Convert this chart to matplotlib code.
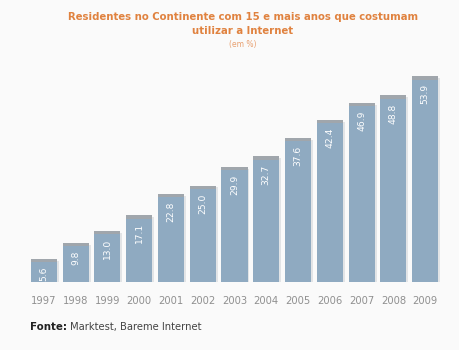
import matplotlib.pyplot as plt

years = ['1997', '1998', '1999', '2000', '2001', '2002', '2003',
         '2004', '2005', '2006', '2007', '2008', '2009']
values = [5.6, 9.8, 13.0, 17.1, 22.8, 25.0, 29.9, 32.7, 37.6, 42.4, 46.9, 48.8, 53.9]

bg = '#fafafa'
fig = plt.figure(figsize=(4.59, 3.5), dpi=100, facecolor=bg)
ax = fig.add_axes([28/459, 68/350, 413/459, 227/350])
ax.set_facecolor(bg)

x = list(range(len(years)))
# faint shadow on the right
ax.bar([i + 0.06 for i in x], values, width=0.82, color='#e2e4e6', zorder=1)
ax.bar(x, values, width=0.82, color='#8faac1', zorder=2)
# grey cap on top of each bar
ax.bar(x, [0.9] * len(x), bottom=[v - 0.4 for v in values], width=0.82,
       color='#a0a6ac', zorder=3)

for i, v in zip(x, values):
    ax.text(i, v - 1.6, '%.1f' % v, rotation=90, ha='center', va='top',
            color='white', fontsize=6.6, zorder=4)

ax.set_xlim(-0.5, len(years) - 0.5)
ax.set_ylim(0, 60)
ax.set_xticks(x)
ax.set_xticklabels(years, fontsize=7.2, color='#909090')
ax.tick_params(axis='x', length=0, pad=10)
ax.set_yticks([])
for s in ax.spines.values():
    s.set_visible(False)

fig.text(243/459, 1 - 17/350, 'Residentes no Continente com 15 e mais anos que costumam',
         ha='center', va='center', fontsize=7.3, fontweight='bold', color='#e0823f')
fig.text(243/459, 1 - 31/350, 'utilizar a Internet',
         ha='center', va='center', fontsize=7.3, fontweight='bold', color='#e0823f')
fig.text(243/459, 1 - 44/350, '(em %)',
         ha='center', va='center', fontsize=5.5, color='#e8a070')

fig.text(30/459, 1 - 327/350, 'Fonte:', ha='left', va='center',
         fontsize=7.4, fontweight='bold', color='#222222')
fig.text(70/459, 1 - 327/350, 'Marktest, Bareme Internet', ha='left', va='center',
         fontsize=7.2, color='#444444')

fig.savefig('out.png', dpi=100, facecolor=bg)
